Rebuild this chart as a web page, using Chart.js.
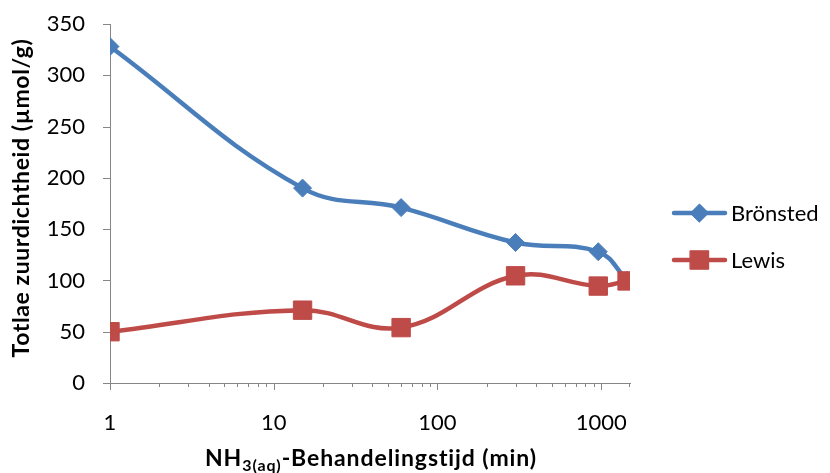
<!DOCTYPE html>
<html>
<head>
<meta charset="utf-8">
<script src="https://cdn.jsdelivr.net/npm/chart.js@4"></script>
<style>
  html, body { margin: 0; padding: 0; background: #fff; }
  #chart { display: block; }
</style>
</head>
<body>
<canvas id="chart" width="830" height="473"></canvas>
<script>
// ── Data ──────────────────────────────────────────────────────────
const times    = [1, 15, 60, 300, 960, 1440];          // min
const bronsted = [328, 190, 171, 137, 128, 100];       // µmol/g
const lewis    = [50, 71, 54, 104.5, 94.5, 99.5];      // µmol/g
const yTicks   = [0, 50, 100, 150, 200, 250, 300, 350];
const xMajor   = [1, 10, 100, 1000];

const BLUE = '#4A7EBB';
const RED  = '#BE4B48';
const AXIS = '#868686';
const FONT = 'Lato, "Open Sans", sans-serif';

// ── Axis ticks, titles and legend drawn by hand ──────────────────
const decor = {
  id: 'decor',
  afterDraw(chart) {
    const { ctx, scales: { x, y }, chartArea: a } = chart;
    ctx.save();
    ctx.strokeStyle = AXIS;
    ctx.lineWidth = 1;
    ctx.beginPath();
    yTicks.forEach(v => {
      const py = Math.round(y.getPixelForValue(v)) + 0.5;
      ctx.moveTo(a.left - 7, py); ctx.lineTo(a.left, py);
    });
    for (let d = 1; d <= 1000; d *= 10) {
      for (let m = 1; m <= 9; m++) {
        const v = d * m;
        if (v > x.max) break;
        const px = Math.round(x.getPixelForValue(v)) + 0.5;
        ctx.moveTo(px, a.bottom); ctx.lineTo(px, a.bottom + (m === 1 ? 7 : 4));
      }
    }
    const pe = Math.round(x.getPixelForValue(x.max)) - 0.5;
    ctx.moveTo(pe, a.bottom); ctx.lineTo(pe, a.bottom + 4);
    ctx.stroke();

    // y title
    ctx.fillStyle = '#000';
    ctx.font = 'bold 23px ' + FONT;
    ctx.letterSpacing = '0.6px';
    ctx.textAlign = 'center';
    ctx.textBaseline = 'middle';
    ctx.save();
    ctx.translate(22, 198);
    ctx.rotate(-Math.PI / 2);
    ctx.fillText('Totlae zuurdichtheid (µmol/g)', 0, 0);
    ctx.restore();

    // x title with subscript
    ctx.letterSpacing = '0.9px';
    const big = 'bold 23px ' + FONT, small = 'bold 16px ' + FONT;
    const parts = [['NH', big, 0], ['3(aq)', small, 5], ['-Behandelingstijd (min)', big, 0]];
    let total = 0;
    parts.forEach(p => { ctx.font = p[1]; total += ctx.measureText(p[0]).width; });
    let cx = 371 - total / 2;
    ctx.textAlign = 'left';
    ctx.textBaseline = 'alphabetic';
    parts.forEach(p => {
      ctx.font = p[1];
      ctx.fillText(p[0], cx, 466 + p[2]);
      cx += ctx.measureText(p[0]).width;
    });
    ctx.letterSpacing = '0px';

    // legend
    const items = [
      { label: 'Brönsted', color: BLUE, style: 'rectRot', r: 9, y: 213 },
      { label: 'Lewis',    color: RED,  style: 'rect',    r: 13, y: 260 }
    ];
    ctx.font = '22px ' + FONT;
    ctx.textBaseline = 'middle';
    items.forEach(it => {
      ctx.strokeStyle = it.color;
      ctx.lineWidth = 4.5;
      ctx.lineCap = 'round';
      ctx.beginPath();
      ctx.moveTo(674, it.y); ctx.lineTo(725, it.y);
      ctx.stroke();
      ctx.fillStyle = it.color;
      ctx.lineWidth = 1;
      Chart.helpers.drawPoint(ctx, { pointStyle: it.style, radius: it.r, borderWidth: 1, rotation: 0 }, 699.5, it.y);
      ctx.fill();
      ctx.fillStyle = '#000';
      ctx.fillText(it.label, 731, it.y + 1);
    });
    ctx.restore();
  }
};

function noPad(s) {
  s.paddingTop = 0; s.paddingBottom = 0;
  s.paddingLeft = 0; s.paddingRight = 0;
}

new Chart(document.getElementById('chart').getContext('2d'), {
  type: 'line',
  data: {
    datasets: [{
      label: 'Brönsted',
      data: times.map((t, i) => ({ x: t, y: bronsted[i] })),
      order: 1,
      borderColor: BLUE,
      backgroundColor: BLUE,
      borderWidth: 4.5,
      tension: 0.4,
      pointStyle: 'rectRot',
      pointRadius: 9,
      pointBorderWidth: 1,
      pointBorderColor: BLUE,
      pointBackgroundColor: BLUE
    }, {
      label: 'Lewis',
      data: times.map((t, i) => ({ x: t, y: lewis[i] })),
      order: 0,
      borderColor: RED,
      backgroundColor: RED,
      borderWidth: 4.5,
      tension: 0.4,
      pointStyle: 'rect',
      pointRadius: 13,
      pointBorderWidth: 1,
      pointBorderColor: RED,
      pointBackgroundColor: RED
    }]
  },
  options: {
    responsive: false,
    animation: false,
    events: [],
    layout: { padding: { top: 24, right: 200, left: 0, bottom: 0 } },
    plugins: { legend: { display: false }, tooltip: { enabled: false } },
    scales: {
      x: {
        type: 'logarithmic',
        min: 1,
        max: 1500,
        afterFit: s => { s.height = 90; noPad(s); },
        grid: { display: false, drawTicks: false },
        border: { display: true, color: AXIS, width: 1 },
        ticks: {
          autoSkip: false,
          maxRotation: 0,
          padding: 27,
          color: '#000',
          font: { family: FONT, size: 22 },
          callback: v => xMajor.includes(v) ? String(v) : ''
        }
      },
      y: {
        min: 0,
        max: 350,
        afterFit: s => { s.width = 110; noPad(s); },
        grid: { display: false, drawTicks: false },
        border: { display: true, color: AXIS, width: 1 },
        ticks: {
          stepSize: 50,
          padding: 25,
          color: '#000',
          font: { family: FONT, size: 22 }
        }
      }
    }
  },
  plugins: [decor]
});
</script>
</body>
</html>
